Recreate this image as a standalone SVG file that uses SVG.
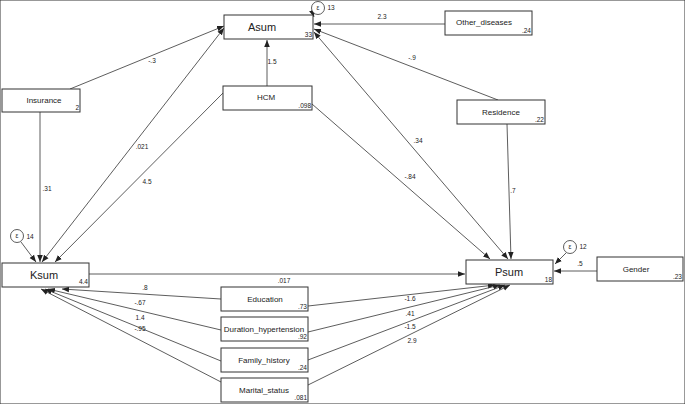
<svg xmlns="http://www.w3.org/2000/svg" width="685" height="404" viewBox="0 0 685 404">
<style>
rect{fill:#fff;stroke:#333;stroke-width:1}
.n{font-family:"Liberation Sans",Arial,sans-serif;font-size:8px;fill:#222;text-anchor:middle}
.b{font-size:11px}
.v{font-family:"Liberation Sans",Arial,sans-serif;font-size:6.5px;fill:#222;text-anchor:end}
.l{font-family:"Liberation Sans",Arial,sans-serif;font-size:6.5px;fill:#222;text-anchor:middle}
#c line{stroke:#333;stroke-width:0.8;marker-end:url(#a)}
#c line.d{marker-start:url(#s)}
circle{fill:#fff;stroke:#333;stroke-width:0.8}
</style>
<defs>
<marker id="a" viewBox="0 0 10 10" refX="10" refY="5" markerWidth="7" markerHeight="7" orient="auto" markerUnits="userSpaceOnUse"><path d="M0,1L10,5L0,9z" fill="#222"/></marker>
<marker id="s" viewBox="0 0 10 10" refX="0" refY="5" markerWidth="7" markerHeight="7" orient="auto" markerUnits="userSpaceOnUse"><path d="M10,1L0,5L10,9z" fill="#222"/></marker>
</defs>
<rect width="685" height="404" fill="#fff" stroke="none"/>
<g id="c">
<line x1="445" y1="24" x2="314" y2="24"/>
<line x1="498" y1="100" x2="314" y2="29"/>
<line x1="267" y1="86" x2="267" y2="40"/>
<line x1="70" y1="89" x2="224" y2="26"/>
<line x1="40" y1="112" x2="40" y2="262"/>
<line class="d" x1="224" y1="28" x2="42" y2="262"/>
<line x1="223" y1="93" x2="55" y2="262"/>
<line class="d" x1="314" y1="32" x2="508" y2="259"/>
<line x1="312" y1="104" x2="490" y2="259"/>
<line x1="507" y1="124" x2="511" y2="259"/>
<line x1="89" y1="274" x2="465" y2="274"/>
<line x1="221" y1="299" x2="62" y2="289"/>
<line x1="221" y1="330" x2="48" y2="289"/>
<line x1="221" y1="361" x2="45" y2="289"/>
<line x1="221" y1="382" x2="41" y2="289"/>
<line x1="308" y1="306" x2="495" y2="285"/>
<line x1="308" y1="332" x2="500" y2="285"/>
<line x1="308" y1="360" x2="505" y2="285"/>
<line x1="308" y1="385" x2="510" y2="285"/>
<line x1="597" y1="271" x2="554" y2="271"/>
<line x1="566" y1="253" x2="555" y2="264"/>
<line x1="312" y1="11" x2="314" y2="17"/>
<line x1="21" y1="242" x2="36" y2="262"/>
</g>
<g class="l">
<text x="382" y="19">2.3</text><text x="412" y="60">-.9</text><text x="272" y="64">1.5</text>
<text x="152" y="63">-.3</text><text x="47" y="191">.31</text><text x="142" y="149">.021</text>
<text x="147" y="184">4.5</text><text x="418" y="143">.34</text><text x="410" y="179">-.84</text>
<text x="513" y="193">.7</text><text x="284" y="283">.017</text><text x="145" y="290">.8</text>
<text x="140" y="305">-.67</text><text x="140" y="320">1.4</text><text x="140" y="331">-.95</text>
<text x="410" y="301">-1.6</text><text x="410" y="316">.41</text><text x="410" y="329">-1.5</text>
<text x="412" y="343">2.9</text><text x="580" y="266">.5</text>
</g>
<g id="e1"><circle cx="318" cy="8" r="6.5"/><text class="l" x="318" y="10">ε</text><text class="l" x="331" y="10">13</text></g>
<g id="e2"><circle cx="17" cy="236" r="6.5"/><text class="l" x="17" y="238">ε</text><text class="l" x="30" y="239">14</text></g>
<g id="e3"><circle cx="570" cy="247" r="6.5"/><text class="l" x="570" y="249">ε</text><text class="l" x="583" y="249">12</text></g>
<g id="asum"><rect x="224" y="15" width="89" height="24"/><text class="n b" x="262" y="31">Asum</text><text class="v" x="312" y="37">33</text></g>
<g id="other"><rect x="445" y="11" width="87" height="24"/><text class="n" x="484" y="25">Other_diseases</text><text class="v" x="531" y="33">.24</text></g>
<g id="insurance"><rect x="2" y="89" width="78" height="23"/><text class="n" x="44" y="103">Insurance</text><text class="v" x="79" y="110">2</text></g>
<g id="hcm"><rect x="223" y="86" width="89" height="24"/><text class="n" x="266" y="100">HCM</text><text class="v" x="311" y="108">.098</text></g>
<g id="residence"><rect x="457" y="100" width="88" height="24"/><text class="n" x="501" y="115">Residence</text><text class="v" x="544" y="122">.22</text></g>
<g id="ksum"><rect x="2" y="263" width="87" height="24"/><text class="n b" x="44" y="279">Ksum</text><text class="v" x="88" y="284">4.4</text></g>
<g id="psum"><rect x="466" y="260" width="87" height="24"/><text class="n b" x="509" y="276">Psum</text><text class="v" x="552" y="282">18</text></g>
<g id="gender"><rect x="597" y="257" width="86" height="24"/><text class="n" x="636" y="272">Gender</text><text class="v" x="682" y="279">.23</text></g>
<g id="education"><rect x="221" y="287" width="87" height="24"/><text class="n" x="265" y="302">Education</text><text class="v" x="307" y="309">.73</text></g>
<g id="duration"><rect x="221" y="317" width="87" height="24"/><text class="n" x="264" y="332">Duration_hypertension</text><text class="v" x="307" y="339">.92</text></g>
<g id="family"><rect x="221" y="348" width="87" height="24"/><text class="n" x="264" y="363">Family_history</text><text class="v" x="307" y="370">.24</text></g>
<g id="marital"><rect x="221" y="378" width="87" height="24"/><text class="n" x="264" y="393">Marital_status</text><text class="v" x="307" y="400">.081</text></g>
</svg>
